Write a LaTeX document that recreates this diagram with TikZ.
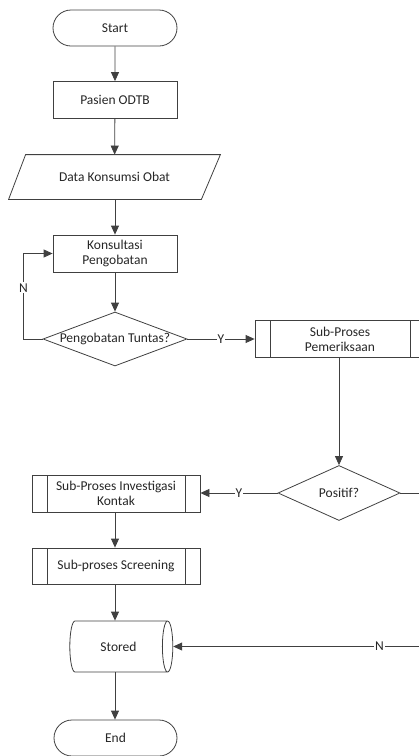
\documentclass[tikz,border=0pt]{standalone}
\usepackage{fontspec}
\setmainfont{Carlito}
\usepackage{tikz}
\usetikzlibrary{shapes.geometric,shapes.misc,arrows.meta}

\begin{document}
\begin{tikzpicture}[x=1pt,y=-1pt,
  line width=0.8pt,
  every node/.style={font=\fontsize{13.5}{15}\selectfont, text=black!85, align=center},
  terminal/.style={draw=black!75, rounded rectangle, minimum width=124pt, minimum height=36pt, inner sep=0pt},
  process/.style={draw=black!75, rectangle, minimum width=124pt, minimum height=37pt, inner sep=0pt},
  iodata/.style={rectangle, minimum width=193pt, minimum height=44pt, inner sep=0pt,
    append after command={\pgfextra{\draw[black!75] ([xshift=8pt]\tikzlastnode.north west) -- ([xshift=9pt]\tikzlastnode.north east)
      -- ([xshift=-10pt]\tikzlastnode.south east) -- ([xshift=-9pt]\tikzlastnode.south west) -- cycle;}}},
  decision/.style={draw=black!75, diamond, minimum width=144pt, minimum height=54pt, inner sep=0pt},
  subproc/.style={draw=black!75, rectangle, minimum height=37pt, inner sep=0pt,
    path picture={\draw[black!75] ([xshift=15pt]path picture bounding box.north west) -- ([xshift=15pt]path picture bounding box.south west);
                  \draw[black!75] ([xshift=-15pt]path picture bounding box.north east) -- ([xshift=-15pt]path picture bounding box.south east);}},
  storage/.style={draw=black!75, cylinder, shape border rotate=0, aspect=1.1, minimum height=103pt, minimum width=51pt, inner sep=0pt},
  lbl/.style={fill=white, inner sep=1pt},
  arr/.style={draw=black!75, -{Triangle[width=8pt,length=9pt]}}]
\useasboundingbox (0,0) rectangle (419,756);

% nodes
\node[terminal] (start) at (115,28) {Start};
\node[process] (pasien) at (115,100) {Pasien ODTB};
\node[iodata] (data) at (114.5,177) {Data Konsumsi Obat};
\node[process] (konsul) at (115,253.5) {Konsultasi\\Pengobatan};
\node[decision, label={center:Pengobatan Tuntas?}] (tuntas) at (115,339) {};
\node[subproc, minimum width=170pt] (periksa) at (340,339) {Sub-Proses\\Pemeriksaan};
\node[decision, minimum width=122pt, minimum height=55pt] (positif) at (339,493) {Positif?};
\node[subproc, minimum width=168pt] (investigasi) at (116,493.5) {Sub-Proses Investigasi\\Kontak};
\node[subproc, minimum width=168pt, minimum height=36pt] (screening) at (116,566) {Sub-proses Screening};
\node[storage] (stored) at (118.5,646.5) {Stored};
\node[terminal, minimum width=123pt] (finish) at (115.5,738) {End};

% connectors
\draw[arr] (start) -- (pasien);
\draw[arr] (pasien) -- (data);
\draw[arr] (data.south -| konsul.north) -- (konsul);
\draw[arr] (konsul) -- (tuntas);
\draw[arr] (tuntas.west) -- ++(-19,0) |- (konsul.west) node[lbl, pos=0.3] {N};
\draw[arr] (tuntas.east) -- node[lbl] {Y} (periksa.west);
\draw[arr] (periksa.south -| positif.north) -- (positif.north);
\draw[arr] (positif.west) -- node[lbl] {Y} (positif.west -| investigasi.east);
\draw[arr] (investigasi.south -| 115,0) -- (screening.north -| 115,0);
\draw[arr] (screening.south -| 115,0) -- (stored.north -| 115,0);
\draw[arr] (positif.east) -- ++(18.5,0) |- (stored.east) node[lbl, pos=0.58] {N};
\draw[arr] (stored.south -| 115,0) -- (finish.north -| 115,0);
\end{tikzpicture}
\end{document}
